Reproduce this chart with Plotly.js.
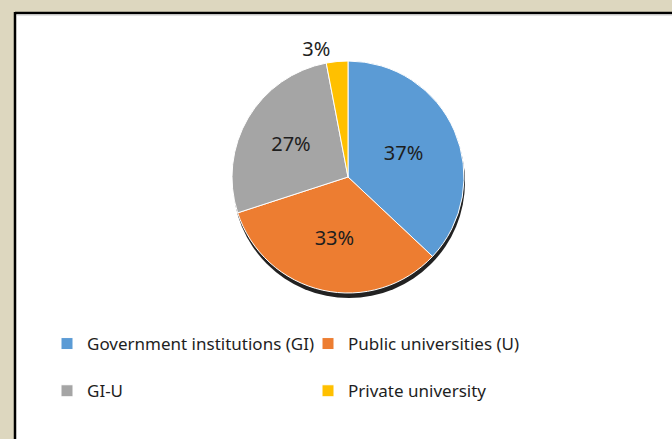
<!DOCTYPE html>
<html>
<head>
<meta charset="utf-8">
<script src="https://cdn.plot.ly/plotly-3.0.1.min.js"></script>
<style>html,body{margin:0;padding:0;background:#ddd7bf;}#chart{width:672px;height:439px;}</style>
</head>
<body>
<div id="chart"></div>
<script>
var categories = ['Government institutions (GI)', 'Public universities (U)', 'GI-U', 'Private university'];
var shares = [37, 33, 27, 3];
var sliceColors = ['#5b9bd5', '#ed7d31', '#a5a5a5', '#ffc000'];
var labelPositions = ['inside', 'inside', 'inside', 'outside'];

var W = 672, H = 439;
var cx = 348, cy = 177, r = 116;

// trailing blank line only widens the legend row spacing
var legendLabels = categories.map(function (c) { return c + '<br> '; });

var trace = {
  type: 'pie',
  labels: legendLabels,
  values: shares,
  sort: false,
  direction: 'clockwise',
  rotation: 0,
  marker: {colors: sliceColors, line: {color: '#ffffff', width: 1}},
  texttemplate: '%{value}%',
  textposition: labelPositions,
  insidetextorientation: 'horizontal',
  textfont: {family: 'Noto Sans, sans-serif', size: 20, color: '#1e1e1e'},
  outsidetextfont: {family: 'Noto Sans, sans-serif', size: 20, color: '#1e1e1e'},
  hoverinfo: 'percent',
  domain: {x: [(cx - r) / W, (cx + r) / W], y: [1 - (cy + r) / H, 1 - (cy - r) / H]}
};

var layout = {
  width: W, height: H,
  paper_bgcolor: '#ddd7bf',
  margin: {l: 0, r: 0, t: 0, b: 0},
  showlegend: true,
  legend: {
    orientation: 'h',
    x: 47 / W, xanchor: 'left',
    y: 1 - 326 / H, yanchor: 'top',
    entrywidth: 216,
    valign: 'top',
    font: {family: 'Noto Sans, sans-serif', size: 17, color: '#1e1e1e'},
    bgcolor: 'rgba(0,0,0,0)'
  },
  shapes: [
    {type: 'rect', xref: 'paper', yref: 'paper', x0: 15 / W, x1: 1, y0: 0, y1: 1 - 13 / H,
     fillcolor: '#ffffff', line: {width: 0}, layer: 'below'},
    {type: 'line', xref: 'paper', yref: 'paper', x0: 15 / W, x1: 1, y0: 1 - 13 / H, y1: 1 - 13 / H,
     line: {color: '#000000', width: 2.5}, layer: 'below'},
    {type: 'line', xref: 'paper', yref: 'paper', x0: 15 / W, x1: 15 / W, y0: 0, y1: 1 - 12 / H,
     line: {color: '#000000', width: 2.5}, layer: 'below'},
    {type: 'line', xref: 'paper', yref: 'paper', x0: 17 / W, x1: 1, y0: 1 - 15 / H, y1: 1 - 15 / H,
     line: {color: '#c8c8c8', width: 1}, layer: 'below'},
    {type: 'circle', xref: 'paper', yref: 'paper', xsizemode: 'pixel', ysizemode: 'pixel',
     xanchor: cx / W, yanchor: 1 - cy / H,
     x0: -r + 1, x1: r + 1, y0: -r - 5, y1: r - 5,
     fillcolor: 'rgba(10,10,10,0.9)', line: {width: 0}, layer: 'below'}
  ]
};

Plotly.newPlot('chart', [trace], layout, {displayModeBar: false, staticPlot: true});
</script>
</body>
</html>
